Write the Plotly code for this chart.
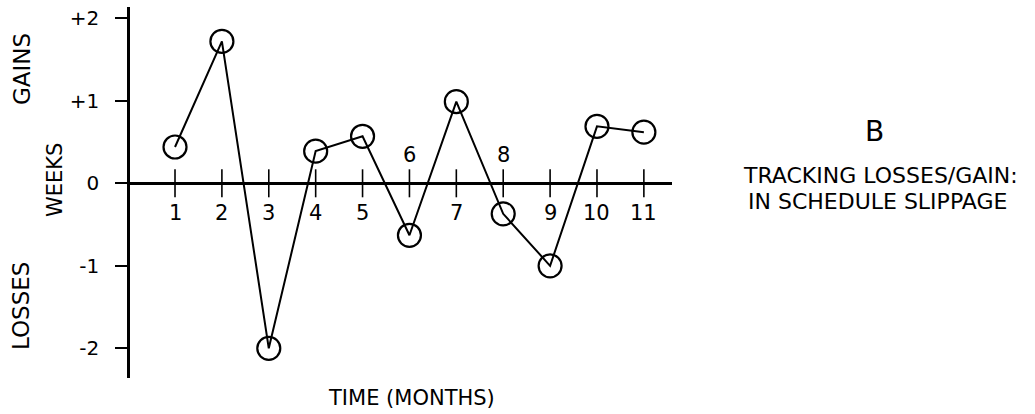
import plotly.graph_objects as go

# ---- data ----
months = [1, 2, 3, 4, 5, 6, 7, 8, 9, 10, 11]
weeks = [0.44, 1.72, -2.0, 0.39, 0.57, -0.63, 0.99, -0.37, -1.0, 0.69, 0.62]
month_labels = ["1", "2", "3", "4", "5", "6", "7", "8", "9", "10", "11"]
labels_above = ["6", "8"]
y_tickvals = [-2, -1, 0, 1, 2]
y_ticktext = ["-2", "-1", "0", "+1", "+2"]

FONT = "DejaVu Sans"
INK = "black"

# plot area geometry (pixels)
L, R, T, B = 130, 672, 7, 378
W, H = 1035, 414

def px_x(p):
    return (p - L) / (R - L)

def px_y(p):
    return (B - p) / (B - T)

fig = go.Figure()

# tick marks crossing the zero line
fig.add_trace(go.Scatter(
    x=months, y=[0] * len(months), mode="markers",
    marker=dict(symbol="line-ns", size=20, line=dict(width=1.6, color=INK)),
    hoverinfo="skip", showlegend=False,
))

# data line with open circles
fig.add_trace(go.Scatter(
    x=months, y=weeks, mode="lines+markers",
    line=dict(color=INK, width=2),
    marker=dict(symbol="circle-open", size=23, color=INK, line=dict(width=2.2, color=INK)),
    showlegend=False,
))

annotations = []
for m, lab in zip(months, month_labels):
    above = lab in labels_above
    annotations.append(dict(
        x=m, y=0, xref="x", yref="y", text=lab, showarrow=False,
        yshift=28 if above else -30, yanchor="middle", xanchor="center",
        font=dict(family=FONT, size=21, color=INK),
    ))

# left labels
for txt, cx, cy, sz in [("GAINS", 22, 69, 23), ("WEEKS", 55, 180, 21), ("LOSSES", 21, 306, 23)]:
    annotations.append(dict(
        x=px_x(cx), y=px_y(cy), xref="paper", yref="paper", text=txt,
        showarrow=False, textangle=-90, xanchor="center", yanchor="middle",
        font=dict(family=FONT, size=sz, color=INK),
    ))

# x title
annotations.append(dict(
    x=px_x(411.5), y=px_y(398), xref="paper", yref="paper", text="TIME (MONTHS)",
    showarrow=False, xanchor="center", yanchor="middle",
    font=dict(family=FONT, size=21, color=INK),
))

# right text
annotations.append(dict(
    x=px_x(874), y=px_y(131), xref="paper", yref="paper", text="B",
    showarrow=False, xanchor="center", yanchor="middle",
    font=dict(family=FONT, size=28, color=INK),
))
annotations.append(dict(
    x=px_x(741), y=px_y(175), xref="paper", yref="paper", text="TRACKING LOSSES/GAIN:",
    showarrow=False, xanchor="left", yanchor="middle",
    font=dict(family=FONT, size=22, color=INK),
))
annotations.append(dict(
    x=px_x(746), y=px_y(201), xref="paper", yref="paper", text="IN SCHEDULE SLIPPAGE",
    showarrow=False, xanchor="left", yanchor="middle",
    font=dict(family=FONT, size=22, color=INK),
))

fig.update_layout(
    width=W, height=H,
    margin=dict(l=L, r=W - R, t=T, b=H - B, pad=0),
    paper_bgcolor="white", plot_bgcolor="white",
    annotations=annotations,
    xaxis=dict(
        range=[0.04, 11.60], visible=False, showgrid=False, zeroline=False, fixedrange=True,
    ),
    yaxis=dict(
        range=[-2.36, 2.137],
        tickvals=y_tickvals, ticktext=y_ticktext,
        ticks="outside", ticklen=12, tickwidth=2, tickcolor=INK,
        showline=True, linewidth=2.5, linecolor=INK,
        showgrid=False,
        zeroline=True, zerolinecolor=INK, zerolinewidth=2.5,
        ticklabelstandoff=12,
        tickfont=dict(family=FONT, size=20, color=INK),
        fixedrange=True,
    ),
    showlegend=False,
)

fig.write_html(
    "out.html",
    config={"displayModeBar": False},
    post_script="document.body.style.margin='0';document.body.style.overflow='hidden';",
)
